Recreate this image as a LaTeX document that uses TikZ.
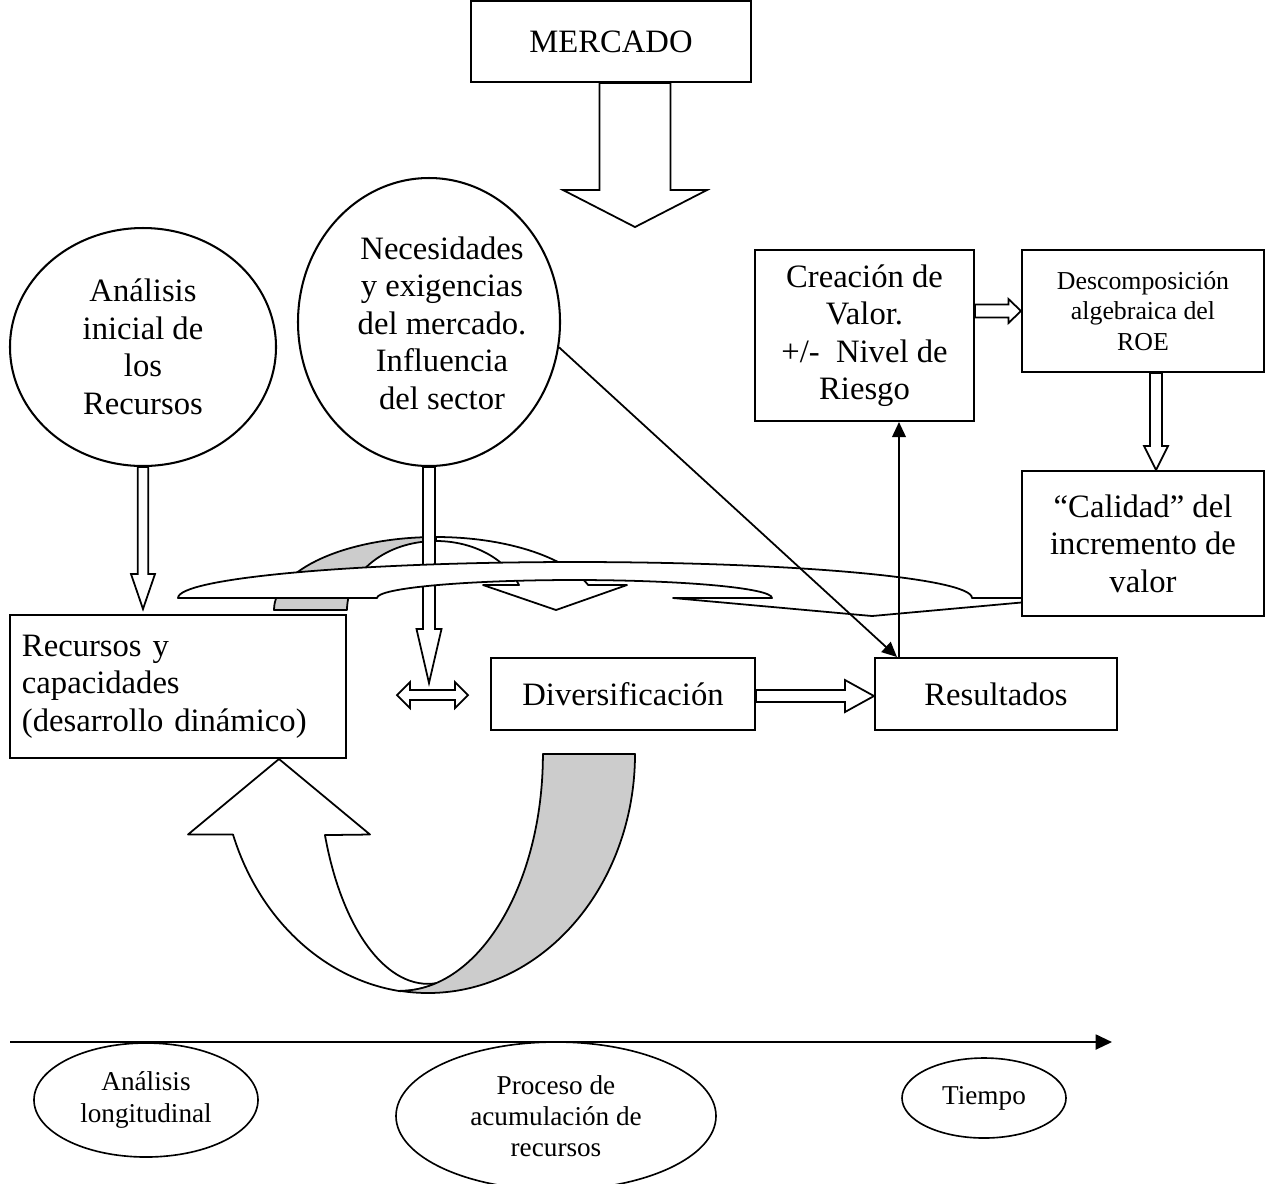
\documentclass[tikz,border=0pt]{standalone}
\usepackage{fontspec}
\setmainfont{Liberation Serif}
\usetikzlibrary{shapes.geometric,calc,arrows.meta}
\definecolor{bandgray}{RGB}{204,204,204}
\newcommand{\pxu}{0.3676pt}

\tikzset{
  frame/.style={line width=0.75pt},
  mainbox/.style={draw, frame, fill=white, rectangle, inner sep=0pt, align=center,
    font=\fontsize{12}{13.8}\selectfont},
  smallbox/.style={mainbox, font=\fontsize{9.5}{11.2}\selectfont},
  oval/.style={draw, frame, fill=white, ellipse, inner sep=0pt, align=center,
    font=\fontsize{12}{13.8}\selectfont},
  smalloval/.style={oval, line width=0.6pt, font=\fontsize{10}{11.5}\selectfont},
  plaintext/.style={inner sep=0pt, align=center, font=\fontsize{12}{13.8}\selectfont},
  blockarrow/.style={draw, fill=white, line width=0.65pt, line join=miter},
  bandline/.style={draw, line width=0.65pt, line join=round},
  grayface/.style={fill=bandgray},
  pointer/.style={draw, line width=0.65pt, -{Triangle[length=5.5pt,width=5pt]}},
}

% hollow block arrows: start point, tip point, stem half-width, head half-width, head length
\newcommand{\downblock}[5]{%
  \draw[blockarrow] ($(#1)+(-#3,0)$) -- ($(#2)+(-#3,-#5)$) -- ($(#2)+(-#4,-#5)$) -- (#2)
    -- ($(#2)+(#4,-#5)$) -- ($(#2)+(#3,-#5)$) -- ($(#1)+(#3,0)$) -- cycle;}
\newcommand{\rightblock}[5]{%
  \draw[blockarrow] ($(#1)+(0,-#3)$) -- ($(#2)+(-#5,-#3)$) -- ($(#2)+(-#5,-#4)$) -- (#2)
    -- ($(#2)+(-#5,#4)$) -- ($(#2)+(-#5,#3)$) -- ($(#1)+(0,#3)$) -- cycle;}
\newcommand{\bothblock}[5]{%
  \draw[blockarrow] (#1) -- ($(#1)+(#5,-#4)$) -- ($(#1)+(#5,-#3)$) -- ($(#2)+(-#5,-#3)$)
    -- ($(#2)+(-#5,-#4)$) -- (#2) -- ($(#2)+(-#5,#4)$) -- ($(#2)+(-#5,#3)$)
    -- ($(#1)+(#5,#3)$) -- ($(#1)+(#5,#4)$) -- cycle;}

\begin{document}
\begin{tikzpicture}[x=0.3676pt, y=-0.3676pt]
\useasboundingbox (0,0) rectangle (1266,1183);
\fill[white] (0,0) rectangle (1266,1183);

% market and its broad arrow
\node[mainbox, minimum width=280*\pxu, minimum height=81*\pxu] (mer) at (611,41.5) {MERCADO};
\coordinate (merS) at ($(mer.south)+(24,0)$);
\coordinate (merT) at ($(merS)+(0,144)$);
\downblock{merS}{merT}{35.5}{72}{37}

% the two circles
\node[oval, minimum width=266*\pxu, minimum height=238*\pxu] (c1) at (143,347)
  {Análisis\\inicial de\\los\\Recursos};
\node[oval, minimum width=262*\pxu, minimum height=288*\pxu] (c2) at (429,322) {};
\node[plaintext] (c2txt) at (442,323)
  {Necesidades\\y exigencias\\del mercado.\\Influencia\\del sector};

% boxes
\node[mainbox, minimum width=336*\pxu, minimum height=143*\pxu, text width=114.7pt, align=left]
  (rec) at (178,686.5) {Recursos y\\capacidades\\(desarrollo dinámico)};
\node[mainbox, minimum width=264*\pxu, minimum height=72*\pxu] (div) at (623,694) {Diversificación};
\node[mainbox, minimum width=242*\pxu, minimum height=72*\pxu] (res) at (996,694) {Resultados};
\node[mainbox, minimum width=219*\pxu, minimum height=171*\pxu] (crea) at (864.5,335.5)
  {Creación de\\Valor.\\+/-\ \ Nivel de\\Riesgo};
\node[smallbox, minimum width=242*\pxu, minimum height=122*\pxu] (desc) at (1143,311)
  {Descomposición\\algebraica del\\ROE};

% arrow from the first circle to the resources box
\coordinate (k1) at (c1.south |- rec.north);
\coordinate (k1t) at ($(k1)+(0,-5)$);
\downblock{c1.south}{k1t}{5.25}{12}{35}

% value creation to ROE decomposition
\coordinate (cd) at (crea.east |- desc.west);
\rightblock{cd}{desc.west}{6.5}{12}{12.5}

% curved arrow with shaded back (behind the flat one)
\filldraw[bandline, grayface] (274,610) arc[start angle=180, end angle=270, x radius=162, y radius=73]
  -- (436,541) arc[start angle=270, end angle=180, x radius=89, y radius=69] -- cycle;
\filldraw[bandline, fill=white] (436,537) arc[start angle=270, end angle=339.97, x radius=162, y radius=73]
  -- (627,585) -- (556,610) -- (483,585) -- (519,585)
  arc[start angle=338.76, end angle=270, x radius=89, y radius=69] -- cycle;

% arrow down from the market-needs circle
\coordinate (k2t) at ($(c2.south)+(0,216)$);
\downblock{c2.south}{k2t}{6}{12.5}{54}

% long flat curved arrow coming back from the quality box
\filldraw[bandline, fill=white] (178,598) arc[start angle=180, end angle=360, x radius=397, y radius=36]
  -- (1071,598) -- (872,616) -- (673,598) -- (772,598)
  arc[start angle=360, end angle=180, x radius=197.5, y radius=18] -- cycle;

% quality box and the arrow into it
\node[mainbox, minimum width=242*\pxu, minimum height=145*\pxu] (cal) at (1143,543.5)
  {“Calidad” del\\incremento de\\valor};
\coordinate (dcs) at ($(desc.south)+(13,0)$);
\coordinate (dct) at (dcs |- cal.north);
\downblock{dcs}{dct}{6}{12}{24}

% resources <-> diversification, diversification -> results
\coordinate (dl) at (397,695);
\coordinate (dr) at (468,695);
\bothblock{dl}{dr}{5}{13}{13}
\coordinate (dvr) at ($(div.east)+(0,2)$);
\coordinate (rsl) at ($(res.west)+(0,2)$);
\rightblock{dvr}{rsl}{6}{16}{29}

% thin arrows
\coordinate (dg) at ($(res.north west)+(23,0)$);
\draw[pointer] (c2.-11) -- (dg);
\coordinate (vr) at ($(res.north west)+(25,0)$);
\draw[pointer] (vr) -- (vr |- crea.south);

% U-shaped arrow feeding back into the resources box
\filldraw[bandline, fill=white] (233,834.5) arc[start angle=160.4, end angle=97.8, x radius=207, y radius=239]
  arc[start angle=90, end angle=75, x radius=143, y radius=236.8]
  arc[start angle=85.3, end angle=159.4, x radius=110, y radius=229.5]
  -- (370,834.5) -- (279,759) -- (188,834.5) -- cycle;
\filldraw[bandline, grayface] (543,754) -- (635,754)
  arc[start angle=0, end angle=97.8, x radius=207, y radius=239]
  arc[start angle=90, end angle=0, x radius=143, y radius=236.8] -- cycle;

% time axis and its labels
\coordinate (ax0) at (10,1042);
\coordinate (ax1) at (1112,1042);
\draw[frame, -{Triangle[length=6pt,width=5.5pt]}] (ax0) -- (ax1);
\node[smalloval, minimum width=224*\pxu, minimum height=114*\pxu] (e1) at (146,1100)
  {Análisis\\longitudinal};
\node[smalloval, minimum width=320*\pxu, minimum height=148*\pxu] (e2) at (556,1116)
  {Proceso de\\acumulación de\\recursos};
\node[smalloval, minimum width=164*\pxu, minimum height=80*\pxu] (e3) at (984,1098) {Tiempo};
\end{tikzpicture}
\end{document}
